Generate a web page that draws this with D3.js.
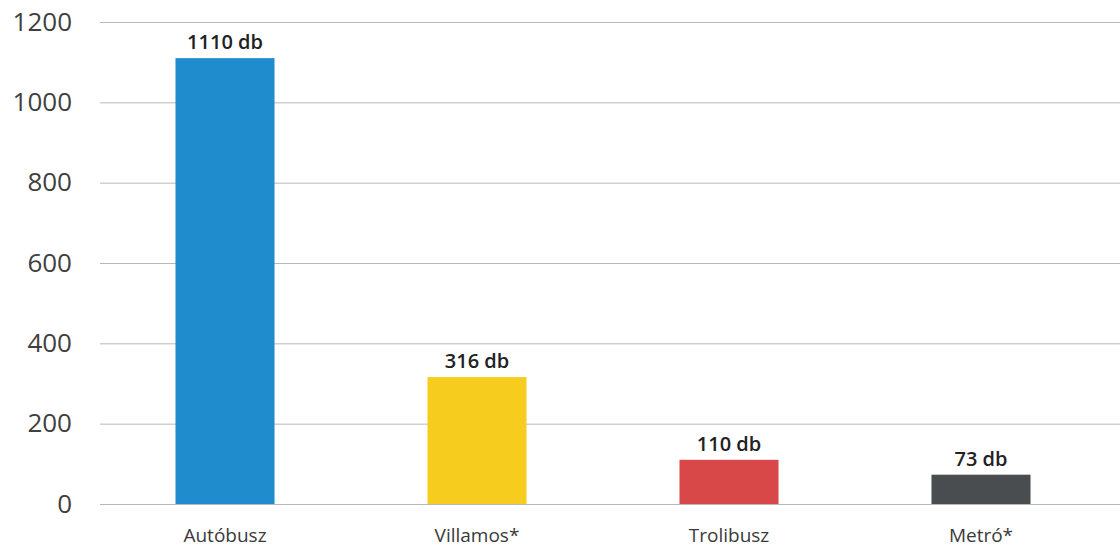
<!DOCTYPE html>
<html>
<head>
<meta charset="utf-8">
<script src="https://cdn.jsdelivr.net/npm/d3@7"></script>
<style>
  body { margin: 0; background: #fff; }
  svg { display: block; font-family: "Open Sans", sans-serif; }
  .y.axis .domain { display: none; }
  .y.axis line { stroke: #b8b8b8; stroke-width: 1; }
  .y.axis text { font-size: 26px; fill: #404040; font-family: "Open Sans", sans-serif; }
</style>
</head>
<body>
<svg id="chart" width="1120" height="549"></svg>
<script>
// data
var categories = ["Autóbusz", "Villamos*", "Trolibusz", "Metró*"];
var values = [1110, 316, 110, 73];
var valueLabels = ["1110 db", "316 db", "110 db", "73 db"];
var barColors = ["#1f8dcd", "#f6cd1f", "#d84848", "#4a4d50"];
var yTicks = [0, 200, 400, 600, 800, 1000, 1200];

var WIDTH = 1120,
    HEIGHT = 549,
    MARGINS = { top: 22, right: 0, bottom: 45, left: 100 };

var svg = d3.select("#chart");

var xScale = d3.scaleBand()
    .domain(categories)
    .range([99, 1107])
    .paddingInner(0.607)
    .paddingOuter(0.3035);

var yScale = d3.scaleLinear()
    .domain([0, 1200])
    .range([HEIGHT - MARGINS.bottom, MARGINS.top]);

// y axis with gridlines
var yAxis = d3.axisLeft(yScale)
    .tickValues(yTicks)
    .tickSize(-(WIDTH - MARGINS.left))
    .tickPadding(28)
    .tickFormat(d3.format("d"));

svg.append("g")
    .attr("class", "y axis")
    .attr("transform", "translate(" + MARGINS.left + ",0)")
    .call(yAxis)
    .attr("font-family", null)
    .attr("font-size", null);

// bars
svg.selectAll("rect.bar")
    .data(values)
    .enter().append("rect")
    .attr("class", "bar")
    .attr("x", function (d, i) { return xScale(categories[i]); })
    .attr("width", xScale.bandwidth())
    .attr("y", function (d) { return yScale(d); })
    .attr("height", function (d) { return yScale(0) - yScale(d); })
    .attr("fill", function (d, i) { return barColors[i]; });

// value labels
svg.selectAll("text.val")
    .data(values)
    .enter().append("text")
    .attr("class", "val")
    .attr("x", function (d, i) { return xScale(categories[i]) + xScale.bandwidth() / 2; })
    .attr("y", function (d) { return yScale(d) - 9; })
    .attr("text-anchor", "middle")
    .attr("font-size", 20)
    .attr("font-weight", 600)
    .attr("fill", "#222")
    .text(function (d, i) { return valueLabels[i]; });

// category labels
svg.selectAll("text.cat")
    .data(categories)
    .enter().append("text")
    .attr("class", "cat")
    .attr("x", function (d) { return xScale(d) + xScale.bandwidth() / 2; })
    .attr("y", 542)
    .attr("text-anchor", "middle")
    .attr("font-size", 19)
    .attr("fill", "#3a3a3a")
    .text(function (d) { return d; });
</script>
</body>
</html>
